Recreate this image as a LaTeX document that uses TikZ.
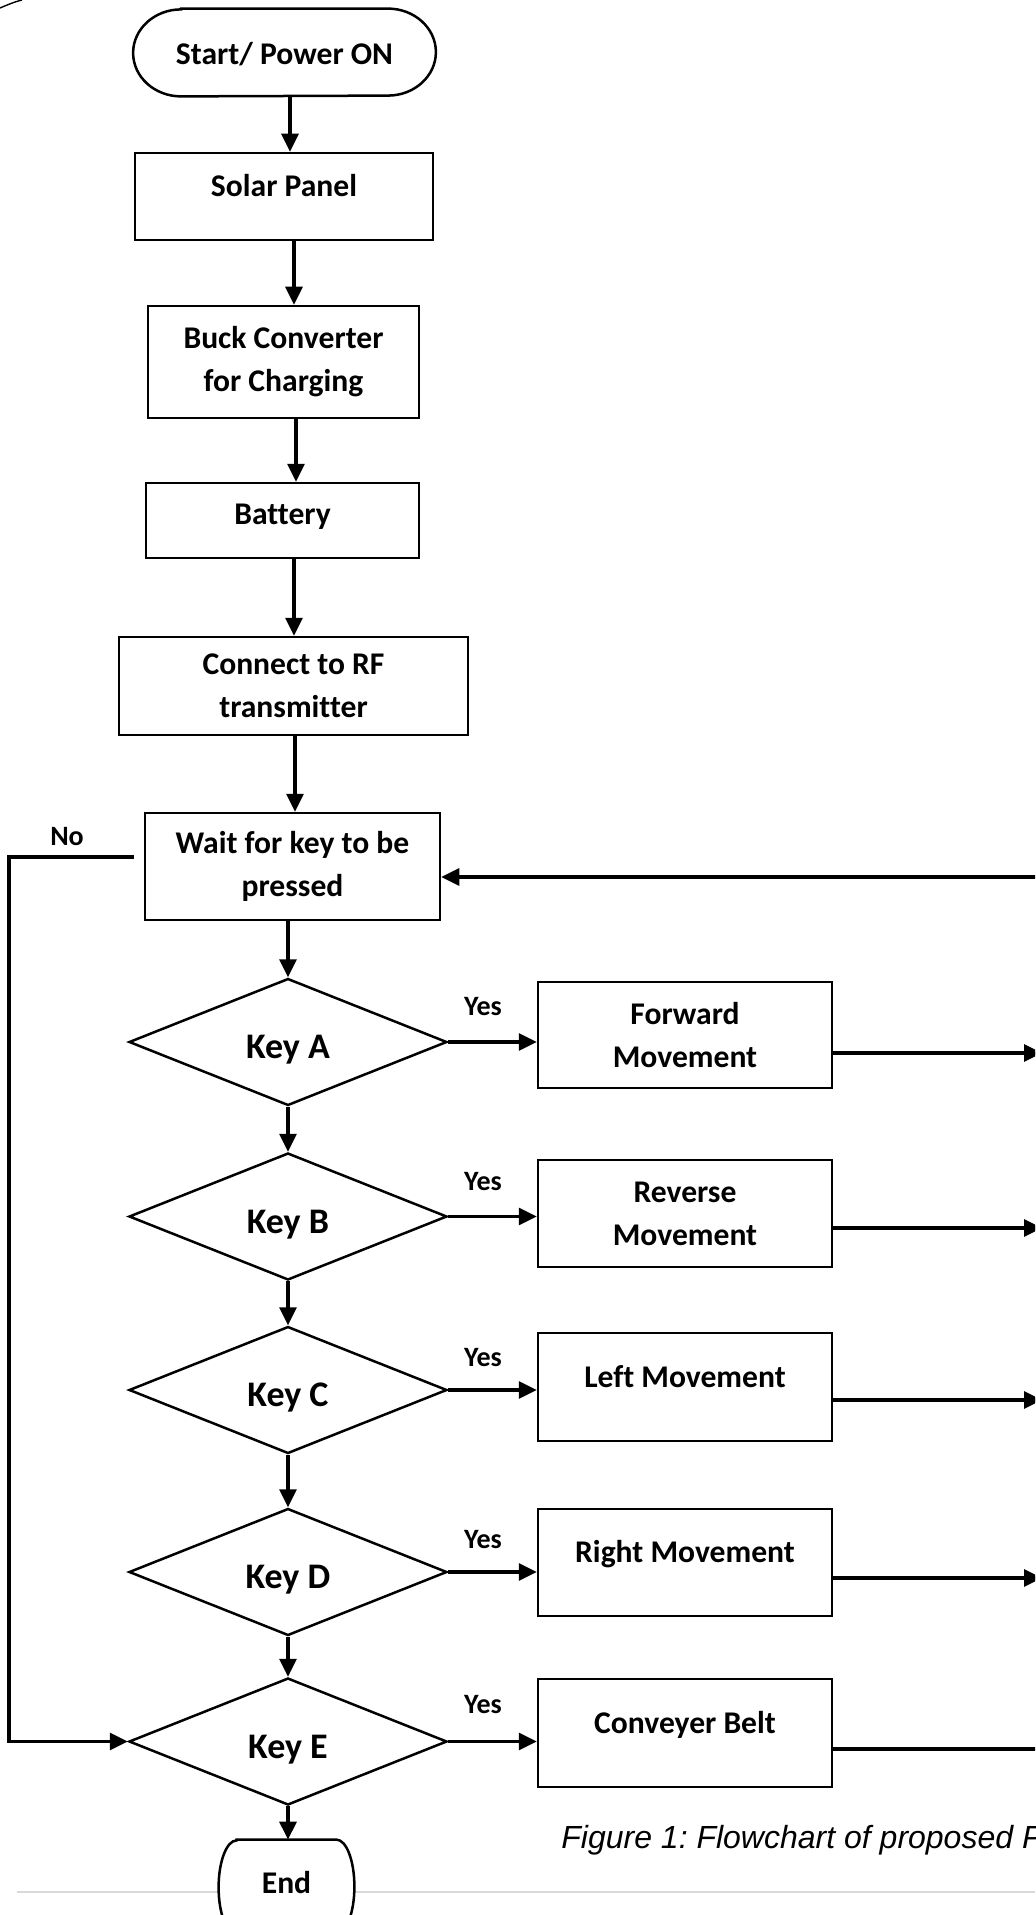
\documentclass[tikz,border=0pt]{standalone}
\usepackage{fontspec}
\setmainfont{Carlito}[Ligatures=CommonOff]
\newfontfamily\capfamily{Liberation Sans}
\usetikzlibrary{shapes.geometric,arrows.meta}
\definecolor{rulegray}{RGB}{217,217,217}
\newcommand\fcbody{\fontsize{15.8pt}{21.5pt}\selectfont\bfseries}
\newcommand\fckey{\fontsize{18pt}{22pt}\selectfont\bfseries}
\newcommand\fcsmall{\fontsize{14pt}{17pt}\selectfont\bfseries}
\newcommand\fccap{\capfamily\itshape\fontsize{16pt}{19pt}\selectfont\frenchspacing}
\newcommand\termoutline[3]{\draw[boxline] ([xshift=#2]#1.north west) -- ([xshift=-#2]#1.north east) arc[start angle=90, end angle=-90, x radius=#2, y radius=#3] -- ([xshift=#2]#1.south west) arc[start angle=270, end angle=90, x radius=#2, y radius=#3] -- cycle;}
\begin{document}
\begin{tikzpicture}[x=0.5pt,y=-0.5pt,
  boxline/.style={draw=black, line width=1.25pt},
  procbox/.style={rectangle, boxline, inner sep=0pt, align=center, font=\fcbody},
  termnode/.style={rectangle, inner sep=0pt, align=center, font=\fcbody},
  keydia/.style={diamond, boxline, inner sep=0pt, minimum width=159pt, minimum height=63.5pt, font=\fckey, text height=16.6pt, text depth=0pt},
  lbl/.style={inner sep=0pt, font=\fcsmall},
  arr/.style={line width=1.6pt, -{Triangle[length=9pt,width=8.5pt]}},
  plainline/.style={line width=1.6pt},
  up5/.style={text height=8pt, text depth=8pt},
]
\useasboundingbox (0,0) rectangle (1035,1915);
\fill[white] (0,0) rectangle (1035,1915);
\clip (0,0) rectangle (1035,1915);

% stray arc fragment at top-left
\draw[line width=0.7pt] (0,8) .. controls (7,5) and (14,2) .. (22,0);

% page rule
\draw[rulegray, line width=0.9pt] (17,1892) -- (1035,1892);

% terminators
\node[termnode, minimum width=151pt, minimum height=43.5pt, text height=11.7pt, text depth=0pt] (start) at (284.5,52.5) {Start/ Power ON};
\termoutline{start}{24pt}{21.75pt}
\node[termnode, fill=white, minimum width=67.5pt, minimum height=47pt, text height=8pt, text depth=1.8pt] (End) at (286.5,1887) {End};
\termoutline{End}{9pt}{23.5pt}

% process boxes
\node[procbox, minimum width=149pt, minimum height=43.5pt, up5] (solar) at (284,196.5) {Solar Panel};
\node[procbox, minimum width=135.5pt, minimum height=56pt] (buck) at (283.5,362) {Buck Converter\\for Charging};
\node[procbox, minimum width=136.5pt, minimum height=37.5pt, text height=9.7pt, text depth=6pt] (battery) at (282.5,520.5) {Battery};
\node[procbox, minimum width=174.5pt, minimum height=49pt] (rf) at (293.5,686) {Connect to RF\\transmitter};
\node[procbox, minimum width=147.5pt, minimum height=53.5pt] (wait) at (292.5,866.5) {Wait for key to be\\pressed};

% decisions
\node[keydia] (keyA) at (288,1042) {Key A};
\node[keydia] (keyB) at (288,1216.5) {Key B};
\node[keydia] (keyC) at (288,1390) {Key C};
\node[keydia] (keyD) at (288,1572) {Key D};
\node[keydia] (keyE) at (288,1741.5) {Key E};

% action boxes
\node[procbox, minimum width=147pt, minimum height=53pt] (fwd) at (685,1035) {Forward\\Movement};
\node[procbox, minimum width=147pt, minimum height=53.5pt] (rev) at (685,1213.5) {Reverse\\Movement};
\node[procbox, minimum width=147pt, minimum height=54pt, up5] (left) at (685,1387) {Left Movement};
\node[procbox, minimum width=147pt, minimum height=53.5pt, up5] (right) at (685,1562.5) {Right Movement};
\node[procbox, minimum width=147pt, minimum height=54pt, up5] (conv) at (685,1733) {Conveyer Belt};

% labels
\node[lbl] (no) at (67,837) {No};
\node[lbl] (yA) at (483,1007) {Yes};
\node[lbl] (yB) at (483,1182) {Yes};
\node[lbl] (yC) at (483,1358) {Yes};
\node[lbl] (yD) at (483,1540) {Yes};
\node[lbl] (yE) at (483,1705) {Yes};

\node[font=\fccap, anchor=base west, inner sep=0pt] (cap) at (561,1848) {Figure 1: Flowchart of proposed P};

% main vertical flow
\coordinate (c1) at (290,0);
\coordinate (c2) at (294,0);
\coordinate (c3) at (296,0);
\coordinate (c4) at (294,0);
\coordinate (c5) at (295,0);
\draw[arr] (start.south -| c1) -- (solar.north -| c1);
\draw[arr] (solar.south -| c2) -- (buck.north -| c2);
\draw[arr] (buck.south -| c3) -- (battery.north -| c3);
\draw[arr] (battery.south -| c4) -- (rf.north -| c4);
\draw[arr] (rf.south -| c5) -- (wait.north -| c5);
\draw[arr] (wait.south -| keyA.north) -- (keyA.north);
\draw[arr] (keyA.south) -- (keyB.north);
\draw[arr] (keyB.south) -- (keyC.north);
\draw[arr] (keyC.south) -- (keyD.north);
\draw[arr] (keyD.south) -- (keyE.north);
\draw[arr] (keyE.south) -- (keyE.south |- End.north);

% yes branches
\draw[arr] (keyA.east) -- (keyA.east -| fwd.west);
\draw[arr] (keyB.east) -- (keyB.east -| rev.west);
\draw[arr] (keyC.east) -- (keyC.east -| left.west);
\draw[arr] (keyD.east) -- (keyD.east -| right.west);
\draw[arr] (keyE.east) -- (keyE.east -| conv.west);

% outgoing lines to the right edge
\coordinate (oA) at (1042,1053);
\coordinate (oB) at (1042,1228);
\coordinate (oC) at (1042,1400);
\coordinate (oD) at (1042,1578);
\coordinate (oE) at (1045,1749);
\draw[arr] (fwd.east |- oA) -- (oA);
\draw[arr] (rev.east |- oB) -- (oB);
\draw[arr] (left.east |- oC) -- (oC);
\draw[arr] (right.east |- oD) -- (oD);
\draw[plainline] (conv.east |- oE) -- (oE);

% return to wait
\coordinate (ret) at (1045,877);
\draw[arr] (ret) -- (ret -| wait.east);

% No loop
\coordinate (noS) at (134,857);
\coordinate (noL) at (9,857);
\draw[arr] (noS) -- (noL) |- (keyE.west);
\end{tikzpicture}
\end{document}
